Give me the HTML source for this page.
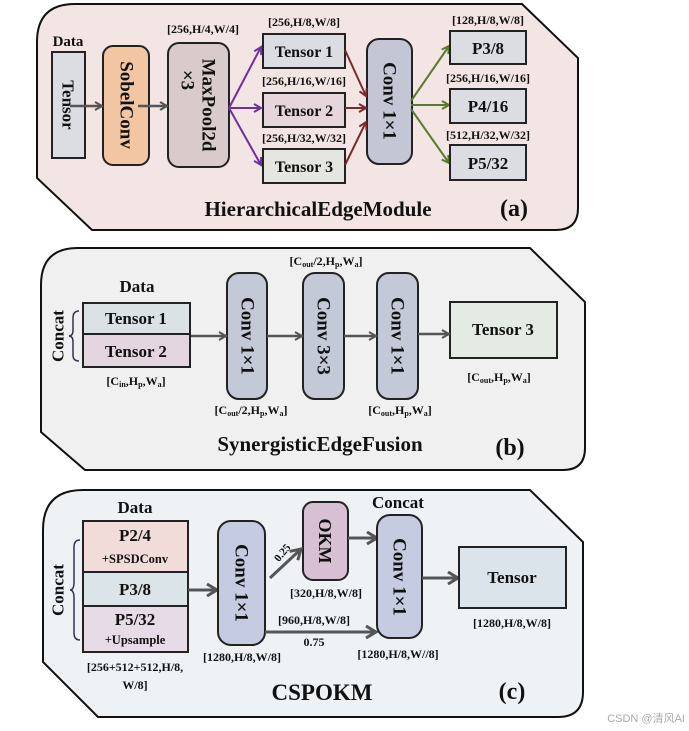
<!DOCTYPE html>
<html><head><meta charset="utf-8"><style>
html,body{margin:0;padding:0;background:#fff;}
svg{display:block;font-family:"Liberation Serif",serif;font-weight:bold;}
text{fill:#111;}
.l{font-size:12px;text-anchor:middle;}
.b{font-size:17px;text-anchor:middle;}
.t{font-size:21px;text-anchor:middle;}
</style></head><body>
<svg width="689" height="731" viewBox="0 0 689 731" xmlns="http://www.w3.org/2000/svg">
<defs>
<marker id="ag" markerWidth="10" markerHeight="10" refX="8" refY="5" orient="auto" markerUnits="userSpaceOnUse"><path d="M1,1 L8,5 L1,9" fill="none" stroke="#555" stroke-width="2"/></marker>
<marker id="ap" markerWidth="10" markerHeight="10" refX="8" refY="5" orient="auto" markerUnits="userSpaceOnUse"><path d="M1,1 L8,5 L1,9" fill="none" stroke="#7030a0" stroke-width="2"/></marker>
<marker id="ar" markerWidth="10" markerHeight="10" refX="8" refY="5" orient="auto" markerUnits="userSpaceOnUse"><path d="M1,1 L8,5 L1,9" fill="none" stroke="#7a2a2a" stroke-width="2"/></marker>
<marker id="an" markerWidth="10" markerHeight="10" refX="8" refY="5" orient="auto" markerUnits="userSpaceOnUse"><path d="M1,1 L8,5 L1,9" fill="none" stroke="#5b7a2e" stroke-width="2"/></marker>
<marker id="ag2" markerWidth="14" markerHeight="14" refX="11" refY="7" orient="auto" markerUnits="userSpaceOnUse"><path d="M1,1 L11,7 L1,13" fill="none" stroke="#555" stroke-width="3"/></marker>
</defs>

<!-- Panel (a) -->
<path d="M37,42 Q37,4 75,4 L522,4 L578,58 L578,208 Q578,230 556,230 L92,230 L37,178 Z" fill="#f3e5e3" stroke="#111" stroke-width="2"/>
<text x="68" y="46" class="b" style="font-size:15px">Data</text>
<rect x="52" y="52" width="33" height="106" fill="#dcdde3" stroke="#222" stroke-width="2"/>
<text transform="translate(68,105) rotate(90)" class="b" dominant-baseline="central">Tensor</text>
<rect x="103" y="46" width="46" height="119" rx="10" fill="#f2c6a2" stroke="#222" stroke-width="2"/>
<text transform="translate(126,105) rotate(90)" class="b" style="font-size:19px" dominant-baseline="central">SobelConv</text>
<rect x="168" y="43" width="61" height="124" rx="11" fill="#d9cbcb" stroke="#222" stroke-width="2"/>
<text transform="translate(208,105) rotate(90)" class="b" style="font-size:19px" dominant-baseline="central">MaxPool2d</text>
<text transform="translate(187,80) rotate(90)" class="b" style="font-size:19px" dominant-baseline="central">×3</text>
<text x="203" y="33" class="l">[256,H/4,W/4]</text>
<line x1="70" y1="106" x2="102" y2="106" stroke="#555" stroke-width="2.5" marker-end="url(#ag)"/>
<line x1="138" y1="106" x2="167" y2="106" stroke="#555" stroke-width="2.5" marker-end="url(#ag)"/>
<rect x="263" y="34" width="82" height="34" fill="#dcdde3" stroke="#222" stroke-width="2"/>
<rect x="263" y="93" width="82" height="34" fill="#e6d6dc" stroke="#222" stroke-width="2"/>
<rect x="263" y="149" width="82" height="34" fill="#e4e6df" stroke="#222" stroke-width="2"/>
<text x="304" y="57" class="b" style="font-size:16px">Tensor 1</text>
<text x="304" y="116" class="b" style="font-size:16px">Tensor 2</text>
<text x="304" y="172" class="b" style="font-size:16px">Tensor 3</text>
<text x="304" y="26" class="l">[256,H/8,W/8]</text>
<text x="304" y="85" class="l">[256,H/16,W/16]</text>
<text x="304" y="142" class="l">[256,H/32,W/32]</text>
<line x1="229" y1="108" x2="261" y2="47" stroke="#7030a0" stroke-width="2" marker-end="url(#ap)"/>
<line x1="229" y1="108" x2="261" y2="108" stroke="#7030a0" stroke-width="2" marker-end="url(#ap)"/>
<line x1="229" y1="108" x2="261" y2="165" stroke="#7030a0" stroke-width="2" marker-end="url(#ap)"/>
<rect x="367" y="39" width="45" height="125" rx="12" fill="#c4c6d6" stroke="#222" stroke-width="2"/>
<text transform="translate(389,101) rotate(90)" class="b" style="font-size:19px" dominant-baseline="central">Conv 1×1</text>
<line x1="345" y1="50" x2="366" y2="96" stroke="#7a2a2a" stroke-width="2" marker-end="url(#ar)"/>
<line x1="345" y1="108" x2="366" y2="108" stroke="#7a2a2a" stroke-width="2" marker-end="url(#ar)"/>
<line x1="345" y1="165" x2="366" y2="122" stroke="#7a2a2a" stroke-width="2" marker-end="url(#ar)"/>
<line x1="411" y1="101" x2="449" y2="46" stroke="#5b7a2e" stroke-width="2" marker-end="url(#an)"/>
<line x1="411" y1="105" x2="449" y2="105" stroke="#5b7a2e" stroke-width="2" marker-end="url(#an)"/>
<line x1="411" y1="109" x2="449" y2="163" stroke="#5b7a2e" stroke-width="2" marker-end="url(#an)"/>
<rect x="450" y="31" width="76" height="33" fill="#dcdde3" stroke="#222" stroke-width="2"/>
<rect x="450" y="89" width="76" height="34" fill="#dcdde3" stroke="#222" stroke-width="2"/>
<rect x="450" y="145" width="76" height="35" fill="#dcdde3" stroke="#222" stroke-width="2"/>
<text x="488" y="54" class="b">P3/8</text>
<text x="488" y="112" class="b">P4/16</text>
<text x="488" y="169" class="b">P5/32</text>
<text x="488" y="24" class="l">[128,H/8,W/8]</text>
<text x="488" y="82" class="l">[256,H/16,W/16]</text>
<text x="488" y="139" class="l">[512,H/32,W/32]</text>
<text x="318" y="216" class="t">HierarchicalEdgeModule</text>
<text x="514" y="216" class="t" style="font-size:24px">(a)</text>

<!-- Panel (b) -->
<path d="M41,285 Q41,248 78,248 L530,248 L585,302 L585,448 Q585,470 563,470 L85,470 L41,432 Z" fill="#f0f0f0" stroke="#111" stroke-width="2"/>
<text x="137" y="292" class="b">Data</text>
<rect x="83" y="303" width="107" height="31" fill="#dae2e6" stroke="#222" stroke-width="2"/>
<rect x="83" y="334" width="107" height="33" fill="#e3d6de" stroke="#222" stroke-width="2"/>
<text x="136" y="324" class="b">Tensor 1</text>
<text x="136" y="357" class="b">Tensor 2</text>
<text transform="translate(58,336) rotate(-90)" class="b" dominant-baseline="central">Concat</text>
<path d="M79,311 Q73,311 73,318 L73,330 Q73,336 69,336 Q73,336 73,342 L73,355 Q73,361 79,361" fill="none" stroke="#3a3050" stroke-width="1.5"/>
<text x="136" y="385" class="l">[C<tspan font-size="8" dy="2">in</tspan><tspan dy="-2">,H</tspan><tspan font-size="8" dy="2">p</tspan><tspan dy="-2">,W</tspan><tspan font-size="8" dy="2">a</tspan><tspan dy="-2">]</tspan></text>
<rect x="227" y="273" width="40" height="126" rx="12" fill="#c4c9d8" stroke="#222" stroke-width="2"/>
<rect x="303" y="273" width="41" height="126" rx="12" fill="#c4c9d8" stroke="#222" stroke-width="2"/>
<rect x="377" y="273" width="41" height="126" rx="12" fill="#c4c9d8" stroke="#222" stroke-width="2"/>
<text transform="translate(247,336) rotate(90)" class="b" style="font-size:19px" dominant-baseline="central">Conv 1×1</text>
<text transform="translate(323,336) rotate(90)" class="b" style="font-size:19px" dominant-baseline="central">Conv 3×3</text>
<text transform="translate(397,336) rotate(90)" class="b" style="font-size:19px" dominant-baseline="central">Conv 1×1</text>
<rect x="450" y="302" width="107" height="56" fill="#e4ebe4" stroke="#222" stroke-width="2"/>
<text x="503" y="335" class="b">Tensor 3</text>
<line x1="191" y1="336" x2="226" y2="336" stroke="#555" stroke-width="2.5" marker-end="url(#ag)"/>
<line x1="267" y1="336" x2="302" y2="336" stroke="#555" stroke-width="2.5" marker-end="url(#ag)"/>
<line x1="344" y1="336" x2="376" y2="336" stroke="#555" stroke-width="2.5" marker-end="url(#ag)"/>
<line x1="418" y1="334" x2="449" y2="334" stroke="#555" stroke-width="2.5" marker-end="url(#ag)"/>
<text x="326" y="265" class="l">[C<tspan font-size="8" dy="2">out</tspan><tspan dy="-2">/2,H</tspan><tspan font-size="8" dy="2">p</tspan><tspan dy="-2">,W</tspan><tspan font-size="8" dy="2">a</tspan><tspan dy="-2">]</tspan></text>
<text x="251" y="414" class="l">[C<tspan font-size="8" dy="2">out</tspan><tspan dy="-2">/2,H</tspan><tspan font-size="8" dy="2">p</tspan><tspan dy="-2">,W</tspan><tspan font-size="8" dy="2">a</tspan><tspan dy="-2">]</tspan></text>
<text x="400" y="414" class="l">[C<tspan font-size="8" dy="2">out</tspan><tspan dy="-2">,H</tspan><tspan font-size="8" dy="2">p</tspan><tspan dy="-2">,W</tspan><tspan font-size="8" dy="2">a</tspan><tspan dy="-2">]</tspan></text>
<text x="499" y="381" class="l">[C<tspan font-size="8" dy="2">out</tspan><tspan dy="-2">,H</tspan><tspan font-size="8" dy="2">p</tspan><tspan dy="-2">,W</tspan><tspan font-size="8" dy="2">a</tspan><tspan dy="-2">]</tspan></text>
<text x="320" y="451" class="t">SynergisticEdgeFusion</text>
<text x="510" y="455" class="t" style="font-size:24px">(b)</text>

<!-- Panel (c) -->
<path d="M43,530 Q43,490 83,490 L530,490 L583,542 L583,692 Q583,717 558,717 L98,717 L43,662 Z" fill="#eef2f5" stroke="#111" stroke-width="2"/>
<text x="135" y="513" class="b">Data</text>
<rect x="83" y="521" width="105" height="51" fill="#f1dcd9" stroke="#222" stroke-width="2"/>
<rect x="83" y="572" width="105" height="34" fill="#dbe4e8" stroke="#222" stroke-width="2"/>
<rect x="83" y="606" width="105" height="46" fill="#e6dbe6" stroke="#222" stroke-width="2"/>
<text x="135" y="541" class="b">P2/4</text>
<text x="135" y="563" class="l" style="font-size:12.5px">+SPSDConv</text>
<text x="135" y="595" class="b">P3/8</text>
<text x="135" y="625" class="b">P5/32</text>
<text x="135" y="644" class="l" style="font-size:12.5px">+Upsample</text>
<text transform="translate(58,590) rotate(-90)" class="b" dominant-baseline="central">Concat</text>
<path d="M80,540 Q74,540 74,547 L74,582 Q74,590 70,590 Q74,590 74,598 L74,633 Q74,640 80,640" fill="none" stroke="#3a3050" stroke-width="1.5"/>
<text x="135" y="671" class="l">[256+512+512,H/8,</text>
<text x="135" y="689" class="l">W/8]</text>
<line x1="188" y1="590" x2="217" y2="590" stroke="#555" stroke-width="3" marker-end="url(#ag2)"/>
<rect x="218" y="521" width="47" height="124" rx="13" fill="#c5cbe0" stroke="#222" stroke-width="2"/>
<text transform="translate(241,583) rotate(90)" class="b" style="font-size:19px" dominant-baseline="central">Conv 1×1</text>
<text x="242" y="661" class="l">[1280,H/8,W/8]</text>
<rect x="303" y="502" width="45" height="78" rx="10" fill="#d8c0d4" stroke="#222" stroke-width="2"/>
<text transform="translate(325,541) rotate(90)" class="b" style="font-size:18px" dominant-baseline="central">OKM</text>
<line x1="270" y1="578" x2="301" y2="549" stroke="#555" stroke-width="3" marker-end="url(#ag2)"/>
<text transform="translate(285,555) rotate(-50)" class="l" style="font-size:11px">0.25</text>
<text x="326" y="597" class="l">[320,H/8,W/8]</text>
<line x1="265" y1="632" x2="376" y2="632" stroke="#555" stroke-width="3" marker-end="url(#ag2)"/>
<text x="314" y="624" class="l">[960,H/8,W/8]</text>
<text x="314" y="646" class="l">0.75</text>
<line x1="348" y1="538" x2="377" y2="538" stroke="#555" stroke-width="3" marker-end="url(#ag2)"/>
<rect x="377" y="515" width="45" height="123" rx="13" fill="#c5cbe0" stroke="#222" stroke-width="2"/>
<text transform="translate(399,577) rotate(90)" class="b" style="font-size:19px" dominant-baseline="central">Conv 1×1</text>
<text x="398" y="508" class="b">Concat</text>
<text x="398" y="658" class="l">[1280,H/8,W//8]</text>
<line x1="422" y1="578" x2="458" y2="578" stroke="#555" stroke-width="3" marker-end="url(#ag2)"/>
<rect x="459" y="547" width="107" height="61" fill="#dbe4ea" stroke="#222" stroke-width="2"/>
<text x="512" y="583" class="b">Tensor</text>
<text x="512" y="627" class="l">[1280,H/8,W/8]</text>
<text x="322" y="700" class="t" style="font-size:23px">CSPOKM</text>
<text x="512" y="699" class="t" style="font-size:24px">(c)</text>

<text x="685" y="722" style="font-family:'Liberation Sans','Noto Sans CJK SC',sans-serif;font-weight:normal;font-size:11px;fill:#aaa;text-anchor:end">CSDN @清风AI</text>
</svg>
</body></html>
